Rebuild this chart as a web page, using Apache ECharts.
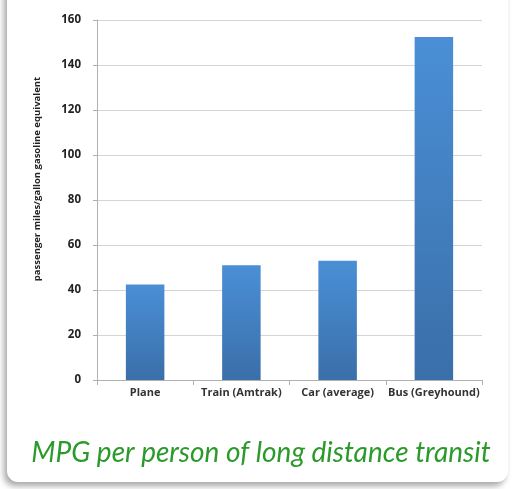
<!DOCTYPE html>
<html>
<head>
<meta charset="utf-8">
<script src="https://cdn.jsdelivr.net/npm/echarts@6/dist/echarts.min.js"></script>
<style>
  html, body { margin: 0; padding: 0; background: #ffffff; }
  #card {
    position: absolute; left: 7px; top: -20px; width: 501px; height: 502px;
    background: #fff; border-radius: 11px;
    box-shadow: -3px 4px 6px rgba(0,0,0,0.35);
  }
  #chart { position: absolute; left: 0; top: 0; width: 512px; height: 489px; }
</style>
</head>
<body>
<div id="card"></div>
<div id="chart"></div>
<script>
const categories = ["Plane", "Train (Amtrak)", "Car (average)", "Bus (Greyhound)"];
const mpgValues = [42.5, 51, 53, 152.5];
const yTicks = [0, 20, 40, 60, 80, 100, 120, 140, 160];

const chart = echarts.init(document.getElementById("chart"), null, { renderer: "canvas" });

chart.setOption({
  animation: false,
  title: {
    text: "MPG per person of long distance transit",
    left: 256, top: 434, textAlign: "center",
    textStyle: { fontFamily: "Lato", fontStyle: "italic", fontWeight: "normal", fontSize: 28, color: "#2a9a2a" }
  },
  // y axis name drawn as text so it can sit a little above the plot centre like the source
  graphic: [{
    type: "text",
    x: 37, y: 179, rotation: Math.PI / 2,
    style: {
      text: "passenger miles/gallon gasoline equivalent",
      fontFamily: "Open Sans", fontWeight: "bold", fontSize: 9.5, fill: "#222",
      align: "center", verticalAlign: "middle"
    }
  }],
  grid: { left: 97, right: 30, top: 20, bottom: 109 },
  xAxis: {
    type: "category",
    data: categories,
    axisLine: { lineStyle: { color: "#b0b0b0" } },
    axisTick: { show: true, length: 5, lineStyle: { color: "#b0b0b0" } },
    axisLabel: { interval: 0, fontFamily: "Open Sans", fontWeight: "bold", fontSize: 11, color: "#333", margin: 7 }
  },
  yAxis: {
    type: "value",
    min: yTicks[0], max: yTicks[yTicks.length - 1], interval: 20,
    axisLine: { show: true, lineStyle: { color: "#b0b0b0" } },
    axisTick: { show: true, length: 4, lineStyle: { color: "#b0b0b0" } },
    splitLine: { lineStyle: { color: "#d4d4d4" } },
    axisLabel: { fontFamily: "Open Sans", fontWeight: "bold", fontSize: 11.5, color: "#222", margin: 16 }
  },
  series: [{
    type: "bar",
    data: mpgValues,
    barWidth: "40%",
    itemStyle: {
      color: new echarts.graphic.LinearGradient(0, 0, 0, 1, [
        { offset: 0, color: "#4a8fd6" },
        { offset: 1, color: "#3a6fa9" }
      ])
    }
  }]
});
</script>
</body>
</html>
